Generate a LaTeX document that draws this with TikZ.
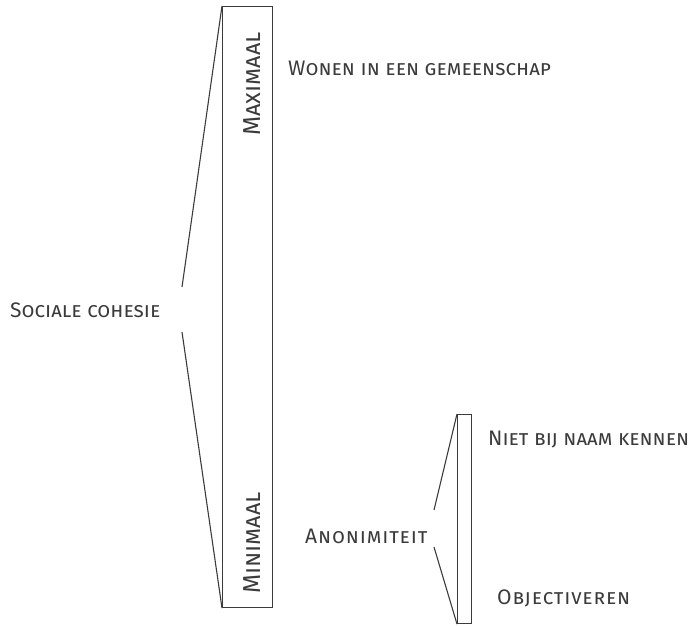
\documentclass[tikz,border=0pt]{standalone}
\usepackage{fontspec}
\setmainfont{Fira Sans}
\usetikzlibrary{positioning}
\definecolor{ink}{HTML}{3A3C3A}

\begin{document}
\begin{tikzpicture}[x=1pt,y=-1pt]
    \tikzset{lbl/.style={text=ink, font=\fontsize{21}{24}\selectfont\scshape, inner sep=0pt},
      wide/.style={lbl, font=\fontsize{21}{24}\selectfont\scshape\addfontfeatures{LetterSpace=4}},
      side/.style={lbl, rotate=90, font=\fontsize{24.5}{28}\selectfont\scshape},
      bar/.style={draw=ink, line width=1.1pt, inner sep=0pt},
      brace/.style={draw=ink, line width=1.1pt}}
    \useasboundingbox (0,0) rectangle (694,625);
    % bars
    \node[bar, minimum width=50pt, minimum height=601pt, anchor=north west] (bigbar) at (222,6) {};
    \node[bar, minimum width=14pt, minimum height=209pt, anchor=north west] (smallbar) at (457,414) {};
    \node[side] (maximaal) at (252,84) {Maximaal};
    \node[side] (minimaal) at (252,543) {Minimaal};
    % labels
    \node[lbl, anchor=base west] (cohesie) at (10,317) {Sociale cohesie};
    \node[lbl, anchor=base west] (wonen) at (288,75) {Wonen in een gemeenschap};
    \node[wide, anchor=base west] (anoniem) at (305,543) {Anonimiteit};
    \node[lbl, anchor=base west] (naam) at (488,445) {Niet bij naam kennen};
    \node[wide, anchor=base west] (object) at (497,604) {Objectiveren};
    % brackets
    \coordinate (cohesie-t) at (182,287);
    \coordinate (cohesie-b) at (182,332);
    \coordinate (anoniem-t) at (434,510);
    \coordinate (anoniem-b) at (434,547);
    \draw[brace] (bigbar.north west) -- (cohesie-t);
    \draw[brace] (cohesie-b) -- (bigbar.south west);
    \draw[brace] (smallbar.north west) -- (anoniem-t);
    \draw[brace] (anoniem-b) -- (smallbar.south west);
  \end{tikzpicture}
\end{document}
